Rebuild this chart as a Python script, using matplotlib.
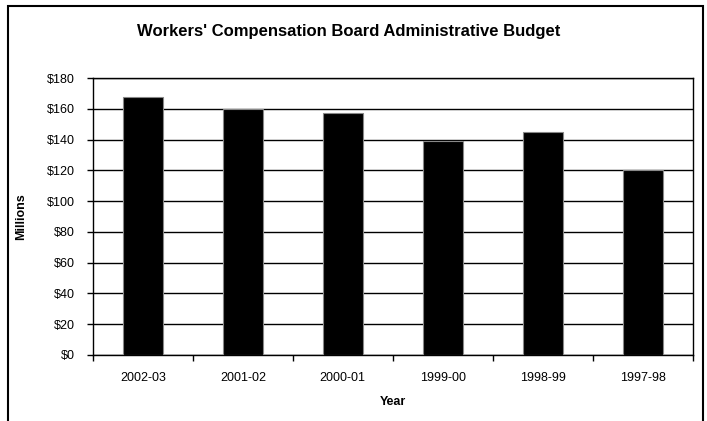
import matplotlib
matplotlib.use("Agg")
import matplotlib.pyplot as plt
import numpy as np
from matplotlib.patches import Rectangle
from matplotlib.ticker import FuncFormatter

years = ["2002-03", "2001-02", "2000-01", "1999-00", "1998-99", "1997-98"]
budget = [167.5, 160, 157, 139, 145, 120]
yticks = [0, 20, 40, 60, 80, 100, 120, 140, 160, 180]

plt.rcParams['font.family'] = ['Liberation Sans', 'DejaVu Sans']

W, H = 707, 421
fig = plt.figure(figsize=(W / 100, H / 100), dpi=100)
ax = fig.add_axes([93 / W, 1 - 355 / H, (692.5 - 93) / W, (355 - 78) / H])

x = np.arange(len(years))
ax.set_axisbelow(True)
ax.bar(x, budget, width=0.4, color='black', edgecolor='#888888', linewidth=0.8, zorder=3)

ax.set_xlim(-0.5, len(years) - 0.5)
ax.set_ylim(0, 180)
ax.set_yticks(yticks)
ax.yaxis.set_major_formatter(FuncFormatter(lambda v, p: f"${v:.0f}"))
ax.yaxis.grid(True, color='black', linewidth=1.0)

ax.set_xticks(x)
ax.set_xticklabels(years)
ax.set_xticks(np.arange(-0.5, len(years)), minor=True)
ax.tick_params(axis='x', which='major', length=0, pad=12, labelsize=9)
ax.tick_params(axis='x', which='minor', length=4, width=1, direction='out')
ax.tick_params(axis='y', length=4, width=1, direction='out', pad=9, labelsize=9)

for s in ax.spines.values():
    s.set_color('black')
    s.set_linewidth(1.0)

fig.text(349 / W, 1 - 31.5 / H, "Workers' Compensation Board Administrative Budget",
         ha='center', va='center', fontsize=12, fontweight='bold')
fig.text(392.7 / W, 1 - 402 / H, "Year", ha='center', va='center',
         fontsize=9, fontweight='bold')
fig.text(21 / W, 1 - 216.5 / H, "Millions", ha='center', va='center',
         rotation=90, fontsize=9, fontweight='bold')

fig.patches.append(Rectangle((8 / W, -0.05), (703 - 8) / W, 1.05 - 5.7 / H,
                             transform=fig.transFigure, fill=False,
                             edgecolor='black', linewidth=1.5))

fig.savefig("out.png", dpi=100)
